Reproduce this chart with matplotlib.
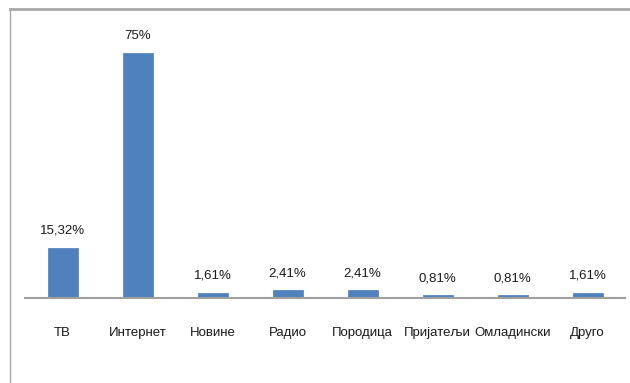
import matplotlib
matplotlib.use("Agg")
import matplotlib.pyplot as plt
from matplotlib.lines import Line2D
from matplotlib import font_manager as fm

categories = ["ТВ", "Интернет", "Новине", "Радио", "Породица", "Пријатељи", "Омладински", "Друго"]
values = [15.32, 75, 1.61, 2.41, 2.41, 0.81, 0.81, 1.61]
value_labels = ["15,32%", "75%", "1,61%", "2,41%", "2,41%", "0,81%", "0,81%", "1,61%"]

names = {f.name for f in fm.fontManager.ttflist}
if "Liberation Sans Narrow" in names:
    fam, fs = "Liberation Sans Narrow", 11
elif "DejaVu Sans Condensed" in names:
    fam, fs = "DejaVu Sans Condensed", 9.5
else:
    fam, fs = "Liberation Sans", 9.5
plt.rcParams['font.family'] = [fam, 'DejaVu Sans']

W, H = 630, 383
fig = plt.figure(figsize=(W/100, H/100), dpi=100)
ax = fig.add_axes([25/W, 1-298/H, 600/W, 268/H])

x = list(range(len(categories)))
ax.bar(x, values, width=0.4, color="#4F81BD", edgecolor="#4A7EBB", linewidth=0.5, zorder=2)
for xi, v, lab in zip(x, values, value_labels):
    ax.annotate(lab, (xi, v), xytext=(0, 8), textcoords="offset points",
                ha="center", va="bottom", fontsize=fs, color="#1A1A1A")

ax.set_xlim(-0.5, len(categories)-0.5)
ax.set_ylim(0, 75*268/245)
ax.set_xticks(x)
ax.set_xticklabels(categories, fontsize=fs, color="#1A1A1A")
ax.tick_params(axis="x", length=0, pad=21)
ax.set_yticks([])
for s in ["top", "right", "left"]:
    ax.spines[s].set_visible(False)
ax.spines["bottom"].set_color("#A0A0A0")
ax.spines["bottom"].set_linewidth(1.5)

fig.add_artist(Line2D([10/W, 1], [1-9/H, 1-9/H], color="#A8A8A8", lw=2, transform=fig.transFigure))
fig.add_artist(Line2D([10/W, 10/W], [0, 1-9/H], color="#A8A8A8", lw=1, transform=fig.transFigure))

fig.savefig("out.png", dpi=100)
